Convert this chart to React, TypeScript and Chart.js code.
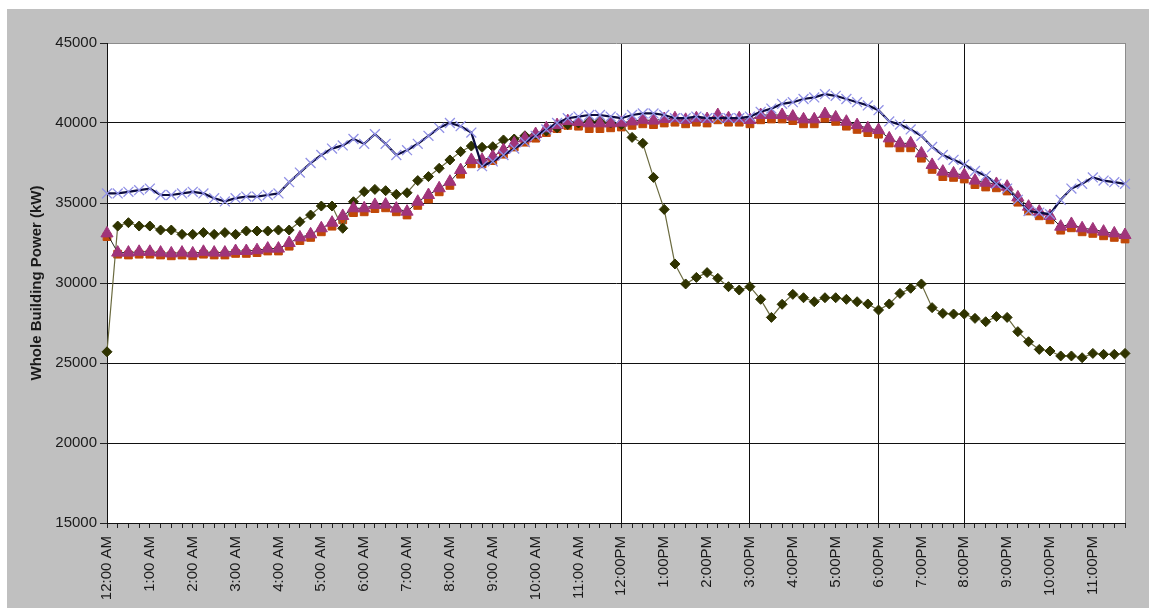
import { useEffect, useRef } from "react";
import { Chart, registerables } from "chart.js";

Chart.register(...registerables);

// Hour tick labels (one every 4 quarter-hour samples)
const hourLabels = [
  "12:00 AM", "1:00 AM", "2:00 AM", "3:00 AM", "4:00 AM", "5:00 AM",
  "6:00 AM", "7:00 AM", "8:00 AM", "9:00 AM", "10:00 AM", "11:00 AM",
  "12:00PM", "1:00PM", "2:00PM", "3:00PM", "4:00PM", "5:00PM",
  "6:00PM", "7:00PM", "8:00PM", "9:00PM", "10:00PM", "11:00PM",
];
const quarterMinutes = ["00", "15", "30", "45"];
const categories = hourLabels.flatMap((h) =>
  quarterMinutes.map((m) => h.replace(":00", ":" + m))
);

// Hours with vertical reference lines
const markedHours = [12, 15, 18, 20];

const yTickValues = [15000, 20000, 25000, 30000, 35000, 40000, 45000];

// Series (kW), 15-minute intervals
const seriesNavy = [
  35600, 35600, 35700, 35800, 35900, 35500, 35500, 35600, 35700, 35600, 35300, 35100,
  35300, 35400, 35400, 35500, 35600, 36300, 36900, 37500, 38000, 38400, 38600, 39000,
  38700, 39300, 38700, 38000, 38300, 38700, 39200, 39700, 40000, 39800, 39400, 37300,
  37600, 38000, 38400, 38800, 39200, 39600, 40000, 40300, 40400, 40500, 40500, 40400,
  40300, 40500, 40600, 40600, 40500, 40300, 40300, 40400, 40300, 40300, 40300, 40300,
  40400, 40700, 40900, 41200, 41300, 41500, 41600, 41800, 41700, 41500, 41300, 41100,
  40800, 40100, 39900, 39600, 39200, 38500, 38000, 37700, 37400, 37000, 36700, 36200,
  35900, 35200, 34500, 34400, 34300, 35200, 35900, 36200, 36600, 36400, 36300, 36200,
];

const seriesOlive = [
  25700, 33560, 33770, 33560, 33560, 33310, 33310, 33040, 33040, 33150, 33040, 33150,
  33040, 33250, 33250, 33250, 33310, 33310, 33830, 34250, 34810, 34810, 33420, 35080,
  35710, 35850, 35770, 35540, 35640, 36400, 36650, 37170, 37690, 38210, 38560, 38480,
  38520, 38940, 39000, 39200, 39300, 39500, 39700, 39900, 40000, 40100, 40100, 40000,
  39900, 39100, 38730, 36600, 34600, 31190, 29940, 30350, 30650, 30290, 29770, 29560,
  29770, 28980, 27850, 28670, 29290, 29080, 28830, 29080, 29080, 28980, 28830, 28690,
  28310, 28690, 29350, 29670, 29940, 28460, 28100, 28060, 28060, 27790, 27580, 27900,
  27850, 26960, 26330, 25850, 25750, 25440, 25440, 25330, 25600, 25540, 25540, 25600,
];

const seriesMagenta = [
  33100, 31900, 31900, 31950, 31950, 31900, 31850, 31900, 31850, 31950, 31900, 31900,
  32000, 32000, 32050, 32150, 32150, 32500, 32850, 33040, 33420, 33770, 34190, 34670,
  34670, 34880, 34900, 34650, 34460, 35080, 35500, 35920, 36330, 37060, 37690, 37690,
  37900, 38310, 38730, 39040, 39310, 39670, 39870, 40120, 40060, 39980, 39980, 39980,
  40020, 40100, 40200, 40150, 40250, 40300, 40200, 40300, 40250, 40500, 40300, 40300,
  40190, 40500, 40500, 40500, 40400, 40230, 40230, 40560, 40350, 40080, 39870, 39670,
  39560, 39040, 38730, 38730, 38100, 37380, 36960, 36850, 36750, 36400, 36270, 36190,
  36020, 35350, 34770, 34460, 34190, 33520, 33690, 33420, 33350, 33210, 33100, 33000,
];

const seriesOrange = [
  32900, 31800, 31750, 31800, 31800, 31750, 31700, 31750, 31700, 31800, 31750, 31750,
  31850, 31850, 31900, 32000, 32000, 32300, 32650, 32850, 33200, 33550, 33950, 34400,
  34450, 34650, 34700, 34450, 34250, 34850, 35250, 35700, 36100, 36800, 37450, 37450,
  37650, 38050, 38500, 38800, 39050, 39400, 39650, 39850, 39800, 39650, 39650, 39700,
  39750, 39850, 39950, 39900, 40000, 40050, 39950, 40050, 40000, 40200, 40050, 40050,
  39950, 40200, 40250, 40250, 40150, 39950, 39950, 40300, 40100, 39800, 39600, 39400,
  39300, 38750, 38450, 38450, 37800, 37100, 36650, 36600, 36500, 36150, 36000, 35950,
  35750, 35050, 34500, 34200, 33950, 33300, 33450, 33200, 33100, 32950, 32850, 32750,
];

const FONT = "'Liberation Sans', Arial, Helvetica, sans-serif";

const plotBg = {
  id: "plotBg",
  beforeDraw(chart: any) {
    const { ctx, chartArea } = chart;
    if (!chartArea) return;
    ctx.save();
    ctx.fillStyle = "#ffffff";
    ctx.fillRect(chartArea.left, chartArea.top, chartArea.right - chartArea.left, chartArea.bottom - chartArea.top);
    ctx.restore();
  },
};

export default function App() {
  const ref = useRef<HTMLCanvasElement | null>(null);

  useEffect(() => {
    if (!ref.current) return;
    const lastIndex = categories.length - 1;
    const chart = new Chart(ref.current, {
      type: "line",
      data: {
        labels: categories,
        datasets: [
          {
            label: "Navy",
            data: seriesNavy,
            order: 0,
            borderColor: "#0c0c40",
            borderWidth: 2.2,
            pointStyle: "crossRot",
            pointRadius: 7,
            pointBorderColor: "#9090e6",
            pointBackgroundColor: "#9090e6",
            pointBorderWidth: 1.3,
            tension: 0,
          },
          {
            label: "Magenta",
            data: seriesMagenta,
            order: 1,
            borderColor: "#222222",
            borderWidth: 1,
            pointStyle: "triangle",
            pointRadius: 7,
            pointBorderColor: "#a0347a",
            pointBackgroundColor: "#a0347a",
            pointBorderWidth: 1,
            tension: 0,
          },
          {
            label: "Olive",
            data: seriesOlive,
            order: 2,
            borderColor: "#6b6b40",
            borderWidth: 1.2,
            pointStyle: "rectRot",
            pointRadius: 5,
            pointBorderColor: "#2f3300",
            pointBackgroundColor: "#2f3300",
            pointBorderWidth: 1,
            tension: 0,
          },
          {
            label: "Orange",
            data: seriesOrange,
            order: 3,
            showLine: false,
            borderColor: "#c04808",
            pointStyle: "rect",
            pointRadius: 5.5,
            pointBorderColor: "#c04808",
            pointBackgroundColor: "#c04808",
            pointBorderWidth: 1,
          },
        ],
      },
      options: {
        responsive: false,
        animation: false,
        devicePixelRatio: 1,
        layout: { padding: { top: 34, right: 24, left: 0, bottom: 0 } },
        plugins: {
          legend: { display: false },
          tooltip: { enabled: false },
          title: { display: false },
        },
        scales: {
          x: {
            type: "category",
            offset: false,
            grid: {
              offset: false,
              drawTicks: true,
              tickLength: 5,
              tickColor: "#222222",
              lineWidth: 1,
              color: (c: any) => {
                const i = c.index;
                if (i === lastIndex) return "#8c8c8c";
                if (i % 4 === 0 && markedHours.includes(i / 4)) return "#111111";
                return "rgba(0,0,0,0)";
              },
            },
            border: { color: "#111111", width: 1 },
            ticks: {
              autoSkip: false,
              maxRotation: 90,
              minRotation: 90,
              padding: 8,
              color: "#1a1a1a",
              font: { family: FONT, size: 15 },
              callback: (_v: any, i: number) => (i % 4 === 0 ? hourLabels[i / 4] : ""),
            },
            afterFit: (s: any) => {
              s.height = 85;
              s.paddingRight = 0;
              s.paddingLeft = 0;
            },
          },
          y: {
            min: yTickValues[0],
            max: yTickValues[yTickValues.length - 1],
            afterBuildTicks: (s: any) => {
              s.ticks = yTickValues.map((v) => ({ value: v }));
            },
            grid: {
              drawTicks: true,
              tickLength: 7,
              tickColor: "#222222",
              lineWidth: 1,
              color: (c: any) => (c.tick && c.tick.value === 45000 ? "#8c8c8c" : "#111111"),
            },
            border: { color: "#111111", width: 1 },
            ticks: {
              padding: 3,
              color: "#1a1a1a",
              font: { family: FONT, size: 15 },
              callback: (v: any) => String(v),
            },
            title: {
              display: true,
              text: "Whole Building Power (kW)",
              color: "#1a1a1a",
              font: { family: FONT, size: 15, weight: "bold" },
              padding: { top: 21, bottom: 0 },
            },
            afterFit: (s: any) => {
              s.width = 100;
            },
          },
        },
      },
      plugins: [plotBg],
    });
    return () => chart.destroy();
  }, []);

  return (
    <div style={{ position: "absolute", left: 0, top: 0, width: 1149, height: 610, background: "#ffffff" }}>
      <div style={{ position: "absolute", left: 7, top: 9, width: 1142, height: 599, background: "#c0c0c0" }}>
        <canvas ref={ref} width={1142} height={599} style={{ display: "block", width: 1142, height: 599 }} />
      </div>
    </div>
  );
}
